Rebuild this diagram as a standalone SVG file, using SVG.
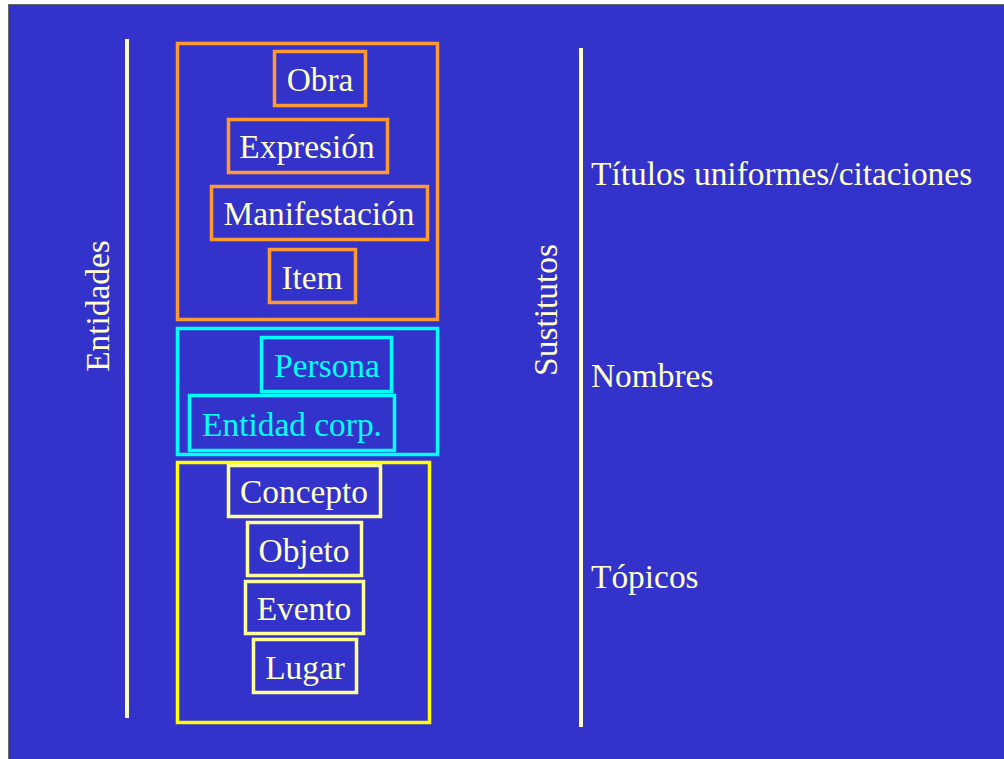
<svg xmlns="http://www.w3.org/2000/svg" width="1004" height="759" viewBox="0 0 1004 759">
<style>
text{font-family:"Liberation Serif","Times New Roman",serif;font-size:33.4px;fill:#FFFFCC}
.c{text-anchor:middle}
.cy{fill:#00FFFF}
.o{fill:none;stroke:#FF9933;stroke-width:3.5}
.b{fill:none;stroke:#00FFFF;stroke-width:3.5}
.yo{fill:none;stroke:#FFFF00;stroke-width:3.5}
.yi{fill:none;stroke:#FFFF99;stroke-width:3.5}
.ln{stroke:#FFFFCC;stroke-width:4}
</style>
<rect x="0" y="0" width="1004" height="759" fill="#FFFFFF"/>
<rect x="8" y="4" width="996" height="755" fill="#666666"/>
<rect x="9" y="5" width="995" height="754" fill="#3333CC"/>
<g id="connectors">
<line class="ln" x1="127" y1="39" x2="127" y2="718"/>
<line class="ln" x1="581" y1="48" x2="581" y2="727"/>
</g>
<g id="entidades"><text transform="translate(109,306) rotate(-90)" class="c">Entidades</text></g>
<g id="sustitutos"><text transform="translate(557,310) rotate(-90)" class="c">Sustitutos</text></g>
<g id="grupo1"><rect class="o" x="177.5" y="43.5" width="260" height="276"/></g>
<g id="obra"><rect class="o" x="274.5" y="51.5" width="91" height="54"/><text class="c" x="320" y="91">Obra</text></g>
<g id="expresion"><rect class="o" x="228.5" y="119.5" width="159" height="53"/><text class="c" x="307" y="158">Expresión</text></g>
<g id="manifestacion"><rect class="o" x="211.5" y="186.5" width="216" height="53"/><text class="c" x="319" y="225">Manifestación</text></g>
<g id="item"><rect class="o" x="269.5" y="249.5" width="86" height="53"/><text class="c" x="312" y="289">Item</text></g>
<g id="grupo2"><rect class="b" x="177.5" y="328.5" width="260" height="126"/></g>
<g id="persona"><rect class="b" x="261.5" y="337.5" width="130" height="54"/><text class="c cy" x="327" y="377">Persona</text></g>
<g id="entidad-corp"><rect class="b" x="189.5" y="395.5" width="205" height="55"/><text class="c cy" x="292" y="436">Entidad corp.</text></g>
<g id="grupo3"><rect class="yo" x="177.5" y="462.5" width="252" height="260"/></g>
<g id="concepto"><rect class="yi" x="228.5" y="465.5" width="152" height="51"/><text class="c" x="304" y="503">Concepto</text></g>
<g id="objeto"><rect class="yi" x="247.5" y="522.5" width="114" height="53"/><text class="c" x="304" y="562">Objeto</text></g>
<g id="evento"><rect class="yi" x="245.5" y="581.5" width="118" height="52"/><text class="c" x="304" y="620">Evento</text></g>
<g id="lugar"><rect class="yi" x="253.5" y="639.5" width="103" height="53"/><text class="c" x="305" y="679">Lugar</text></g>
<g id="titulos"><text x="591" y="185">Títulos uniformes/citaciones</text></g>
<g id="nombres"><text x="591" y="387">Nombres</text></g>
<g id="topicos"><text x="591" y="588">Tópicos</text></g>
</svg>
